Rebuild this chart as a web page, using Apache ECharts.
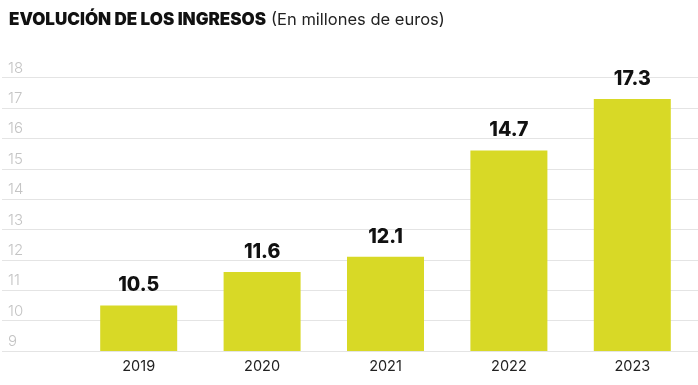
<!DOCTYPE html>
<html><head><meta charset="utf-8">
<script src="https://cdn.jsdelivr.net/npm/echarts@6/dist/echarts.min.js"></script>
<style>html,body{margin:0;padding:0;background:#fff}#c{width:698px;height:385px}</style>
</head><body><div id="c"></div>
<script>
const categories = ['2019','2020','2021','2022','2023'];
const barValues = [10.5, 11.6, 12.1, 15.6, 17.3];
const labelTexts = ['10.5','11.6','12.1','14.7','17.3'];
const yMin = 9, yMax = 18, yInterval = 1;

const chart = echarts.init(document.getElementById('c'));
chart.setOption({
  animation: false,
  title: {
    left: 4, top: 6,
    text: '{b|EVOLUCIÓN DE LOS INGRESOS} {n|(En millones de euros)}',
    textStyle: {
      rich: {
        b: {fontFamily: 'Inter', fontWeight: 900, fontSize: 17, color: '#111', letterSpacing: -0.6},
        n: {fontFamily: 'Inter', fontWeight: 400, fontSize: 16.5, color: '#222'}
      }
    }
  },
  grid: [
    {left: 2, right: 0, top: 77.7, bottom: 34, containLabel: false},
    {left: 77, right: 4, top: 77.7, bottom: 34, containLabel: false}
  ],
  xAxis: [
    {gridIndex: 0, type: 'category', data: categories, show: false},
    {gridIndex: 1, type: 'category', data: categories,
     axisLine: {show: false}, axisTick: {show: false},
     axisLabel: {color: '#222', fontFamily: 'Inter', fontSize: 14.5, margin: 8}}
  ],
  yAxis: [
    {gridIndex: 0, type: 'value', min: yMin, max: yMax, interval: yInterval,
     axisLine: {show: false}, axisTick: {show: false},
     splitLine: {lineStyle: {color: '#e4e4e4', width: 1.2}},
     axisLabel: {inside: true, margin: 6, verticalAlign: 'bottom', padding: [0,0,2,0],
       color: '#c4c4c4', fontFamily: 'Inter', fontWeight: 300, fontSize: 15}},
    {gridIndex: 1, type: 'value', min: yMin, max: yMax, interval: yInterval, show: false}
  ],
  series: [{
    type: 'bar', xAxisIndex: 1, yAxisIndex: 1,
    data: barValues, barWidth: 77,
    itemStyle: {color: '#d8d926'},
    label: {show: true, position: 'top', distance: 10,
      formatter: p => labelTexts[p.dataIndex],
      fontFamily: 'Inter', fontWeight: 800, fontSize: 19.5, color: '#111'}
  }]
});
</script></body></html>
